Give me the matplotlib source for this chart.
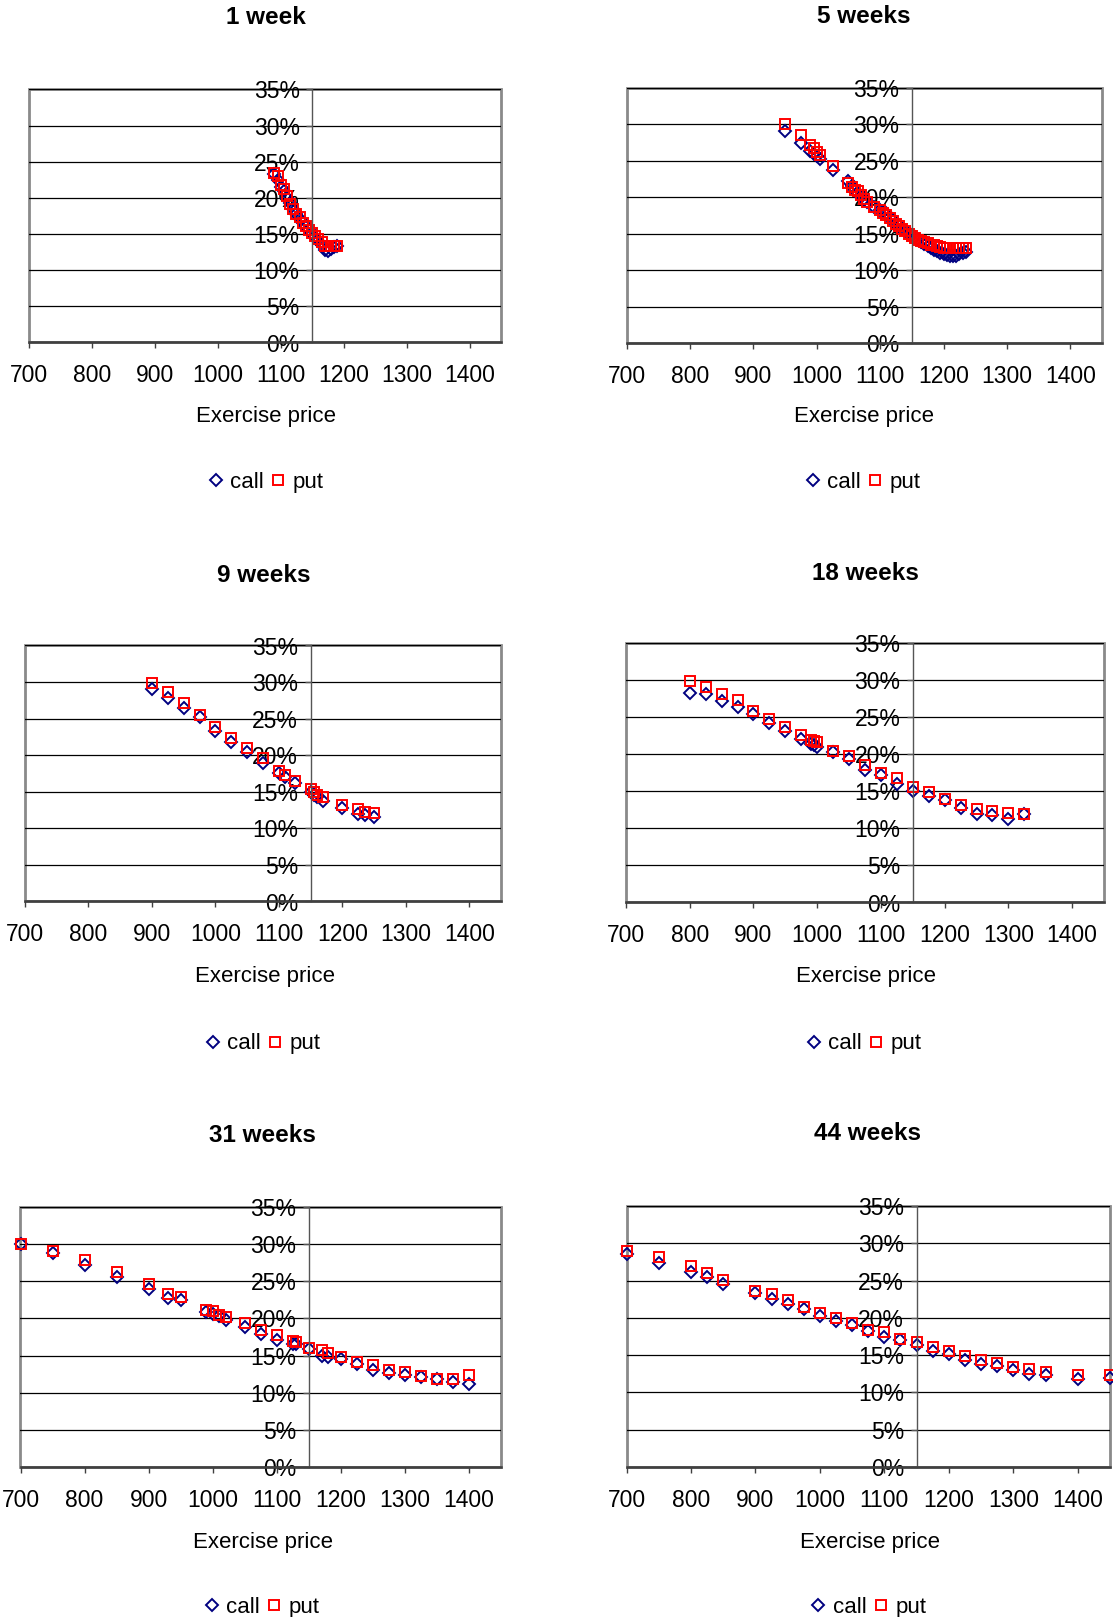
import matplotlib
matplotlib.use('Agg')
import matplotlib.pyplot as plt
from matplotlib.patches import Rectangle
from matplotlib.ticker import FuncFormatter, MultipleLocator

plt.rcParams['font.family'] = ['Liberation Sans', 'DejaVu Sans']

# implied volatility (%) by exercise price
k_1w = [1090, 1095, 1100, 1105, 1110, 1115, 1120, 1125, 1130, 1135, 1140,
        1145, 1150, 1155, 1160, 1165, 1170, 1175, 1180, 1185, 1190]
call_1w = [23.3, 22.5, 21.5, 20.9, 20.0, 19.3, 18.5, 17.8, 17.1, 16.5, 16.0,
           15.5, 15.0, 14.6, 14.0, 13.5, 12.8, 12.6, 13.0, 13.2, 13.4]
put_1w = [23.5, 23.0, 21.8, 21.2, 20.2, 19.2, 18.4, 17.8, 17.3, 16.6, 16.1,
          15.6, 15.2, 14.8, 14.3, 13.9, 13.4, 13.3, 13.3, 13.4, 13.4]

k_5w = [950, 975, 990, 995, 1000, 1005, 1025, 1050, 1055, 1060, 1065, 1070,
        1075, 1080, 1090, 1100, 1105, 1110, 1115, 1120, 1125, 1130, 1135, 1140,
        1145, 1150, 1155, 1160, 1165, 1170, 1175, 1180, 1185, 1190, 1195, 1200,
        1205, 1210, 1215, 1220, 1225, 1230, 1235]
call_5w = [29.1, 27.4, 26.3, 26.0, 25.7, 25.3, 23.7, 22.2, 21.5, 21.0, 20.6,
           20.1, 19.7, 19.3, 18.7, 18.2, 18.0, 17.8, 17.3, 16.8, 16.5, 16.0,
           15.7, 15.4, 15.1, 14.8, 14.5, 14.2, 13.9, 13.6, 13.3, 13.1, 12.8,
           12.6, 12.4, 12.2, 12.1, 12.0, 11.9, 12.0, 12.2, 12.4, 12.5]
put_5w = [30.0, 28.6, 27.2, 26.8, 26.2, 25.8, 24.3, 21.9, 21.4, 21.0, 20.8,
          20.3, 19.8, 19.3, 18.6, 18.2, 17.8, 17.5, 17.1, 16.8, 16.4, 16.1,
          15.7, 15.4, 15.0, 14.7, 14.4, 14.2, 14.0, 13.9, 13.7, 13.5, 13.4,
          13.3, 13.2, 13.1, 13.0, 13.0, 13.0, 13.0, 13.0, 13.0, 13.0]

k_9w = [900, 925, 950, 975, 1000, 1025, 1050, 1075, 1100, 1110, 1125, 1150,
        1155, 1160, 1170, 1200, 1225, 1235, 1250]
call_9w = [29.0, 27.8, 26.4, 25.2, 23.3, 21.8, 20.4, 18.9, 17.5, 17.0, 16.2,
           15.0, 14.6, 14.3, 13.8, 12.8, 12.0, 11.8, 11.6]
put_9w = [29.9, 28.6, 27.1, 25.5, 23.9, 22.3, 21.0, 19.6, 17.9, 17.3, 16.5,
          15.4, 15.0, 14.6, 14.3, 13.2, 12.6, 12.3, 12.1]

k_18w = [800, 825, 850, 875, 900, 925, 950, 975, 990, 995, 1000, 1025, 1050,
         1075, 1100, 1125, 1150, 1175, 1200, 1225, 1250, 1275, 1300, 1325]
call_18w = [28.2, 28.1, 27.2, 26.4, 25.4, 24.2, 23.1, 22.0, 21.4, 21.2, 21.0,
            20.3, 19.3, 17.9, 17.2, 16.0, 15.0, 14.3, 13.8, 12.8, 12.0, 11.8,
            11.2, 11.9]
put_18w = [29.9, 29.1, 28.1, 27.3, 25.8, 24.8, 23.7, 22.6, 21.9, 21.8, 21.6,
           20.5, 19.7, 18.5, 17.4, 16.8, 15.6, 14.9, 13.9, 13.1, 12.6, 12.4,
           12.1, 12.0]

k_31w = [700, 750, 800, 850, 900, 930, 950, 990, 1000, 1010, 1020, 1050,
         1075, 1100, 1125, 1130, 1150, 1170, 1180, 1200, 1225, 1250, 1275,
         1300, 1325, 1350, 1375, 1400]
call_31w = [30.0, 28.8, 27.2, 25.6, 23.9, 22.7, 22.5, 20.9, 20.6, 20.3, 19.8,
            18.9, 17.9, 17.1, 16.6, 16.5, 15.9, 14.9, 14.8, 14.5, 13.8, 13.0,
            12.6, 12.4, 12.1, 11.8, 11.5, 11.2]
put_31w = [30.0, 29.1, 27.8, 26.2, 24.6, 23.3, 22.9, 21.2, 21.0, 20.5, 20.2,
           19.4, 18.5, 17.8, 16.9, 16.8, 16.0, 15.7, 15.3, 14.8, 14.2, 13.7,
           13.1, 12.8, 12.2, 11.9, 11.9, 12.4]

k_44w = [700, 750, 800, 825, 850, 900, 925, 950, 975, 1000, 1025, 1050, 1075,
         1100, 1125, 1150, 1175, 1200, 1225, 1250, 1275, 1300, 1325, 1350,
         1400, 1450]
call_44w = [28.6, 27.4, 26.1, 25.5, 24.6, 23.4, 22.5, 21.8, 21.2, 20.3, 19.6,
            19.0, 18.2, 17.4, 17.0, 16.4, 15.6, 15.1, 14.4, 13.8, 13.5, 13.0,
            12.5, 12.4, 11.8, 12.0]
put_44w = [29.0, 28.1, 26.9, 26.0, 25.1, 23.6, 23.2, 22.4, 21.5, 20.7, 20.0,
           19.3, 18.4, 18.1, 17.2, 16.7, 16.1, 15.6, 14.9, 14.3, 13.9, 13.4,
           13.1, 12.8, 12.4, 12.4]

titles = ['1 week', '5 weeks', '9 weeks', '18 weeks', '31 weeks', '44 weeks']
strikes = [k_1w, k_5w, k_9w, k_18w, k_31w, k_44w]
calls = [call_1w, call_5w, call_9w, call_18w, call_31w, call_44w]
puts = [put_1w, put_5w, put_9w, put_18w, put_31w, put_44w]
x_ticks = [700, 800, 900, 1000, 1100, 1200, 1300, 1400]

# layout in pixels: plot box (left, top, right, bottom), then text centres
W, H = 1113, 1617
boxes = [(29, 89.5, 501, 342.5), (626.5, 88, 1102, 343),
         (25, 645.5, 501, 901.5), (626, 643, 1104, 902.5),
         (20.5, 1207, 501, 1467), (626.5, 1206, 1110, 1467)]
title_xy = [(266, 17.5), (864, 16.5), (264, 575.5), (865.5, 573.5), (262, 1135.5), (867.5, 1133.5)]
xlab_xy = [(266, 416.7), (864, 416.7), (265, 976.8), (866.5, 976.8), (263, 1542), (869.5, 1542)]
leg_xy = [(266, 482.7), (863, 482.7), (263, 1043.8), (864, 1043.8), (262, 1607), (868.5, 1607)]

fig = plt.figure(figsize=(W / 100, H / 100), dpi=100)


def fx(x):
    return x / W


def fy(y):
    return 1 - y / H


for i in range(6):
    l, t, r, b = boxes[i]
    ax = fig.add_axes([fx(l), fy(b), (r - l) / W, (b - t) / H])
    ax.set_xlim(700, 1450)
    ax.set_ylim(0, 35)
    ax.patch.set_visible(False)

    ax.plot(strikes[i], calls[i], linestyle='none', marker='D', ms=5.8,
            mfc='none', mec='#000080', mew=1.4, clip_on=False, label='call')
    ax.plot(strikes[i], puts[i], linestyle='none', marker='s', ms=6.8,
            mfc='none', mec='#ff0000', mew=1.4, clip_on=False, label='put')

    # excel style frame, y axis crossing at 1150
    ax.add_patch(Rectangle((0, 0), 1, 1, transform=ax.transAxes, fill=False,
                           ec='#8a8a8a', lw=2, zorder=0.5, clip_on=False))
    ax.spines['top'].set_visible(False)
    ax.spines['right'].set_visible(False)
    ax.spines['left'].set_position(('data', 1150))
    ax.spines['left'].set_color('#555555')
    ax.spines['left'].set_linewidth(1)
    ax.spines['bottom'].set_color('#404040')
    ax.spines['bottom'].set_linewidth(1.8)

    ax.yaxis.set_major_locator(MultipleLocator(5))
    ax.yaxis.set_major_formatter(FuncFormatter(lambda v, _: '%d%%' % v))
    ax.set_xticks(x_ticks)
    ax.grid(axis='y', color='#000000', lw=0.9)
    ax.tick_params(axis='x', direction='out', length=4, width=1,
                   color='#404040', labelsize=16.5, pad=11.5)
    ax.tick_params(axis='y', direction='out', length=4, width=1,
                   color='#555555', labelsize=16.5, pad=5)

    fig.text(fx(title_xy[i][0]), fy(title_xy[i][1]), titles[i], ha='center',
             va='center', fontsize=17.5, fontweight='bold')
    fig.text(fx(xlab_xy[i][0]), fy(xlab_xy[i][1]), 'Exercise price',
             ha='center', va='center', fontsize=16)
    ax.legend(loc='center', bbox_to_anchor=(fx(leg_xy[i][0]), fy(leg_xy[i][1])),
              bbox_transform=fig.transFigure, ncol=2, frameon=False,
              fontsize=16, handlelength=0.7, handletextpad=0.3,
              columnspacing=0.3, borderpad=0, numpoints=1)

fig.savefig('out.png', dpi=100)
